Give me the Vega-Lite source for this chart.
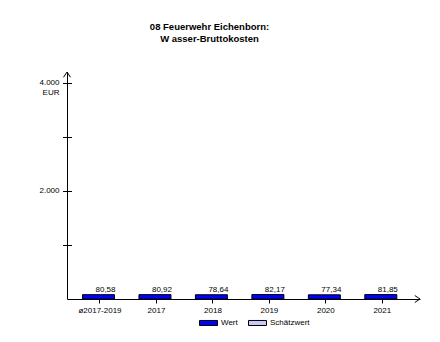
{
  "$schema": "https://vega.github.io/schema/vega-lite/v6.json",
  "width": 353,
  "height": 227,
  "autosize": "none",
  "padding": {"left": 67, "top": 72, "right": 20, "bottom": 43},
  "background": "white",
  "config": {
    "font": "Liberation Sans",
    "locale": {"number": {"decimal": ",", "thousands": ".", "grouping": [3], "currency": ["", " €"]}},
    "view": {"stroke": null},
    "axis": {"grid": false, "labelColor": "#000", "domainColor": "#000", "tickColor": "#000", "labelFontSize": 8, "titleFontSize": 8, "titleFontWeight": "normal", "titleColor": "#000"}
  },
  "title": {
    "text": ["08 Feuerwehr Eichenborn:", "W asser-Bruttokosten"],
    "fontSize": 9.5,
    "fontWeight": "bold",
    "color": "#000",
    "anchor": "middle",
    "frame": "group",
    "baseline": "bottom",
    "lineHeight": 12.4,
    "offset": 16,
    "dx": -34
  },
  "data": {
    "values": [
      {"Jahr": "ø2017-2019", "Wert": 80.58, "Art": "Wert"},
      {"Jahr": "2017", "Wert": 80.92, "Art": "Wert"},
      {"Jahr": "2018", "Wert": 78.64, "Art": "Wert"},
      {"Jahr": "2019", "Wert": 82.17, "Art": "Wert"},
      {"Jahr": "2020", "Wert": 77.34, "Art": "Wert"},
      {"Jahr": "2021", "Wert": 81.85, "Art": "Wert"}
    ]
  },
  "layer": [
    {
      "mark": {"type": "bar", "size": 32, "stroke": "#000", "strokeWidth": 1, "xOffset": -1.5},
      "encoding": {
        "x": {
          "field": "Jahr", "type": "nominal", "sort": null,
          "scale": {"type": "band", "paddingInner": 0, "paddingOuter": 0.126, "align": 0.335},
          "axis": {"orient": "bottom", "title": null, "labelAngle": 0, "tickSize": 4, "labelPadding": 3, "domain": true, "ticks": true, "labels": true}
        },
        "y": {
          "field": "Wert", "type": "quantitative",
          "scale": {"domain": [0, 4200], "nice": false},
          "axis": {"orient": "left", "values": [2000, 4000], "ticks": false, "tickSize": 0, "labelPadding": 8, "format": ",d", "title": "EUR", "titleAngle": 0, "titleAlign": "right", "titleBaseline": "alphabetic", "titleX": -8, "titleY": 22}
        },
        "color": {
          "field": "Art", "type": "nominal",
          "scale": {"domain": ["Wert", "Schätzwert"], "range": ["#0000FF", "#C8C8F8"]},
          "legend": {"orient": "none", "legendX": 132, "legendY": 241, "direction": "horizontal", "title": null, "symbolType": "M-1,-0.28L1,-0.28L1,0.28L-1,0.28Z", "symbolSize": 324, "symbolStrokeColor": "#000", "symbolStrokeWidth": 1, "labelFontSize": 8, "labelColor": "#000", "labelOffset": 3, "columnPadding": 8, "padding": 0}
        }
      }
    },
    {
      "mark": {"type": "text", "fontSize": 8, "dx": 5.5, "dy": -3, "baseline": "alphabetic", "color": "#000"},
      "encoding": {
        "x": {
          "field": "Jahr", "type": "nominal", "sort": null,
          "scale": {"type": "band", "paddingInner": 0, "paddingOuter": 0.126, "align": 0.335},
          "axis": null
        },
        "y": {
          "field": "Wert", "type": "quantitative",
          "scale": {"domain": [0, 4200], "nice": false},
          "axis": {"orient": "left", "values": [1000, 2000, 3000, 4000], "labels": false, "domain": false, "ticks": true, "tickSize": 9, "offset": -4.5, "title": null}
        },
        "text": {"field": "Wert", "type": "quantitative", "format": ".2f"}
      }
    },
    {
      "data": {"values": [{}]},
      "mark": {"type": "point", "shape": "M-1,1.5L0,0L1,1.5", "size": 49, "filled": false, "stroke": "#000", "strokeWidth": 1, "opacity": 1},
      "encoding": {
        "x": {"datum": 0, "type": "quantitative", "scale": {"domain": [0, 1], "nice": false, "zero": false}, "axis": null},
        "y": {"datum": 4200, "type": "quantitative", "scale": {"domain": [0, 4200], "nice": false}, "axis": null}
      }
    },
    {
      "data": {"values": [{}]},
      "mark": {"type": "point", "shape": "M-1.5,-1L0,0L-1.5,1", "size": 49, "filled": false, "stroke": "#000", "strokeWidth": 1, "opacity": 1},
      "encoding": {
        "x": {"datum": 1, "type": "quantitative", "scale": {"domain": [0, 1], "nice": false, "zero": false}, "axis": null},
        "y": {"datum": 0, "type": "quantitative", "scale": {"domain": [0, 4200], "nice": false}, "axis": null}
      }
    }
  ],
  "resolve": {"scale": {"x": "independent"}, "axis": {"y": "independent"}}
}
